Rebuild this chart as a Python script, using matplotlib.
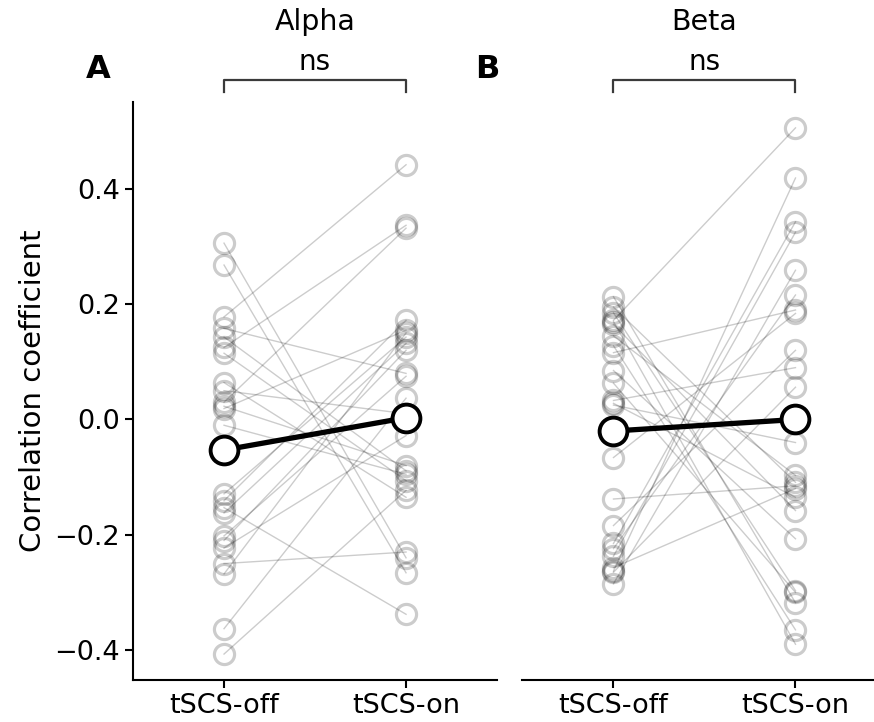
import matplotlib
matplotlib.use('Agg')
import matplotlib.pyplot as plt

# Paired correlation coefficients (off, on)
alpha_off = [0.306, 0.268, 0.178, 0.158, 0.143, 0.125, 0.115, 0.064, 0.050, 0.030, 0.023, 0.019,
             -0.010, -0.129, -0.141, -0.153, -0.162, -0.202, -0.210, -0.223, -0.250, -0.268, -0.363, -0.407]
alpha_on = [-0.240, -0.266, 0.442, 0.080, -0.089, 0.337, -0.106, -0.135, 0.010, 0.332, -0.080, 0.155,
            -0.095, 0.143, 0.172, -0.338, 0.132, 0.075, 0.120, -0.028, -0.230, 0.150, 0.037, -0.123]

beta_off = [0.213, 0.195, 0.185, 0.172, 0.170, 0.165, 0.145, 0.128, 0.116, 0.085, 0.063, 0.033,
            0.028, 0.025, -0.066, -0.138, -0.184, -0.215, -0.224, -0.237, -0.257, -0.263, -0.265, -0.285]
beta_on = [-0.318, -0.109, -0.297, 0.506, -0.390, -0.158, -0.097, -0.365, 0.190, -0.207, -0.300, 0.090,
           -0.135, -0.040, 0.184, -0.115, 0.120, 0.343, 0.216, 0.325, -0.120, 0.419, 0.056, 0.259]

alpha_mean = [-0.053, 0.003]
beta_mean = [-0.020, 0.000]

conditions = ['tSCS-off', 'tSCS-on']
titles = ['Alpha', 'Beta']
panel_labels = ['A', 'B']
sig_labels = ['ns', 'ns']

plt.rcParams['font.family'] = 'DejaVu Sans'
fs = 19.5

fig = plt.figure(figsize=(8.74, 7.22), dpi=100)
ax1 = fig.add_axes([0.1522, 0.0582, 0.4165, 0.8006])
ax2 = fig.add_axes([0.5978, 0.0582, 0.4165, 0.8006], sharey=ax1)

panels = [(ax1, alpha_off, alpha_on, alpha_mean), (ax2, beta_off, beta_on, beta_mean)]
for i, (ax, off, on, mean) in enumerate(panels):
    for a, b in zip(off, on):
        ax.plot([0, 1], [a, b], '-', color='k', lw=1.0, alpha=0.2, zorder=1)
        ax.plot([0, 1], [a, b], 'o', ms=14.5, mfc='none', mec='k', mew=2.3, alpha=0.2, zorder=2)
    ax.plot([0, 1], mean, '-', color='k', lw=3.8, zorder=3)
    ax.plot([0, 1], mean, 'o', ms=20, mfc='white', mec='k', mew=2.8, zorder=4)

    ax.set_xlim(-0.5, 1.5)
    ax.set_xticks([0, 1])
    ax.set_xticklabels(conditions, fontsize=fs)
    ax.spines['top'].set_visible(False)
    ax.spines['right'].set_visible(False)
    for sp in ax.spines.values():
        sp.set_linewidth(1.5)
    ax.tick_params(width=1.5, length=6, labelsize=fs)

    # significance bracket
    ax.plot([0, 0, 1, 1], [0.568, 0.589, 0.589, 0.568], color='#3a3a3a', lw=1.6, clip_on=False)
    ax.text(0.5, 1.069, sig_labels[i], transform=ax.transAxes, ha='center', va='center', fontsize=20)
    ax.text(0.5, 1.138, titles[i], transform=ax.transAxes, ha='center', va='center', fontsize=20.5)
    ax.text(-0.096, 1.056, panel_labels[i], transform=ax.transAxes, ha='center', va='center',
            fontsize=23, fontweight='bold')

ax1.set_ylim(-0.452, 0.551)
ax1.set_yticks([-0.4, -0.2, 0.0, 0.2, 0.4])
ax1.set_ylabel('Correlation coefficient', fontsize=21, labelpad=5)
ax2.spines['left'].set_visible(False)
ax2.tick_params(axis='y', left=False, labelleft=False)

fig.savefig('out.png', dpi=100)
